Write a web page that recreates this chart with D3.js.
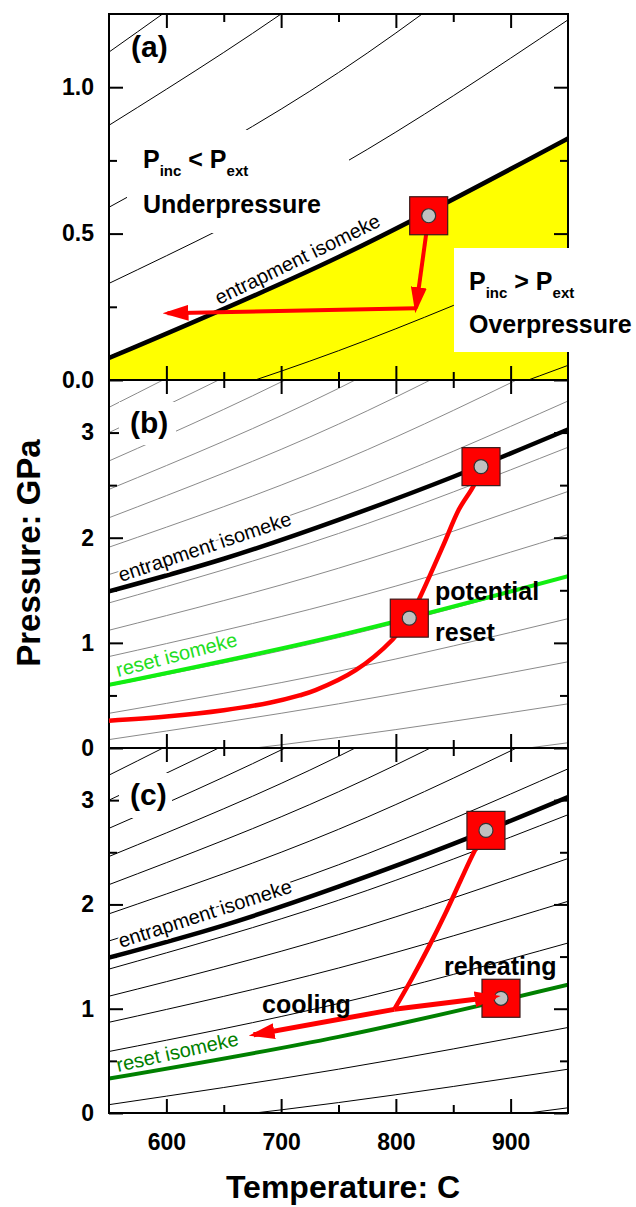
<!DOCTYPE html>
<html>
<head>
<meta charset="utf-8">
<script src="https://cdn.jsdelivr.net/npm/d3@7"></script>
<style>
  body { margin: 0; background: #fff; }
  svg { display: block; font-family: "Liberation Sans", Arial, sans-serif; }
</style>
</head>
<body>
<svg id="chart" width="636" height="1207"></svg>
<script>
// ---- values ----
const tempTicks = [600, 700, 800, 900];
const tempMinor = [650, 750, 850];
const pressTicksA = [0, 0.5, 1.0];
const pressMinorA = [0.25, 0.75];
const pressTicksBC = [0, 1, 2, 3];
const pressMinorBC = [0.5, 1.5, 2.5];

// background isomeke family, pressure at 550, 750 and 950 C
const isoT = [550, 750, 950];
const isoP550 = [-0.41, -0.16, 0.08, 0.33, 0.59, 0.87, 1.12, 1.38, 1.65, 1.91, 2.19, 2.46, 2.73, 3.00, 3.24];
const isoP750 = [-0.22, 0.10, 0.42, 0.73, 1.05, 1.39, 1.71, 2.04, 2.38, 2.72, 3.08, 3.42, 3.76, 4.10, 4.41];
const isoP950 = [0.05, 0.42, 0.82, 1.23, 1.63, 2.03, 2.44, 2.86, 3.30, 3.74, 4.18, 4.62, 5.05, 5.48, 5.86];

const entrapA = [0.075, 0.42, 0.825];          // at isoT
const entrapT = [550, 650, 750, 850, 950];
const entrapP = [1.49, 1.80, 2.17, 2.58, 3.03];  // panels b and c
const resetB = [0.60, 1.07, 1.635];              // at isoT
const resetC = [0.33, 0.73, 1.23];

const pathBT = [550, 600, 650, 690, 716, 730, 765, 797, 811.7, 820, 841, 855, 868, 874.2];
const pathBP = [0.26, 0.30, 0.36, 0.43, 0.50, 0.55, 0.74, 1.03, 1.235, 1.41, 1.92, 2.27, 2.50, 2.676];
const pathCT = [878.5, 868, 856, 843, 829, 814, 798.6];
const pathCP = [2.71, 2.50, 2.22, 1.91, 1.60, 1.29, 0.994];

const arrowA1 = [[828.6, 0.561], [817.5, 0.245]];
const arrowA2 = [[817.5, 0.245], [601, 0.228]];
const coolC = [[798.6, 0.994], [676, 0.75]];
const reheatC = [[798.6, 0.994], [887, 1.115]];

const squaresA = [[828.6, 0.561]];
const squaresB = [[874.2, 2.676], [811.7, 1.235]];
const squaresC = [[878.5, 2.71], [891.6, 1.10]];

const svg = d3.select("#chart");
const left = 109, right = 568;
const x = d3.scaleLinear().domain([550, 950]).range([left, right]);

const panels = [
  { key: "a", top: 14, bottom: 380, yMax: 1.25, major: pressTicksA, minor: pressMinorA, fmt: d3.format(".1f"), thin: "#000" },
  { key: "b", top: 380, bottom: 748, yMax: 3.5, major: pressTicksBC, minor: pressMinorBC, fmt: d3.format("d"), thin: "#8a8a8a" },
  { key: "c", top: 748, bottom: 1113, yMax: 3.5, major: pressTicksBC, minor: pressMinorBC, fmt: d3.format("d"), thin: "#000" }
];
panels.forEach(p => {
  p.y = d3.scaleLinear().domain([0, p.yMax]).range([p.bottom, p.top]);
});

const defs = svg.append("defs");
defs.append("marker")
  .attr("id", "head")
  .attr("markerUnits", "userSpaceOnUse")
  .attr("viewBox", "0 0 26 16")
  .attr("markerWidth", 26)
  .attr("markerHeight", 16)
  .attr("refX", 21)
  .attr("refY", 8)
  .attr("orient", "auto")
  .append("path")
  .attr("d", "M0,0 L26,8 L0,16 Z")
  .attr("fill", "#ff0000");

panels.forEach(p => {
  defs.append("clipPath").attr("id", "clip-" + p.key)
    .append("rect")
    .attr("x", left).attr("y", p.top)
    .attr("width", right - left).attr("height", p.bottom - p.top);
});

function curve(p, pts, c) {
  return d3.line()
    .x(d => x(d[0]))
    .y(d => p.y(d[1]))
    .curve(c || d3.curveNatural)(pts);
}

const family = isoP550.map((v, i) => [[isoT[0], v], [isoT[1], isoP750[i]], [isoT[2], isoP950[i]]]);
const zip3 = arr => isoT.map((t, i) => [t, arr[i]]);

const layers = {};
panels.forEach(p => {
  const g = svg.append("g").attr("clip-path", `url(#clip-${p.key})`);
  layers[p.key] = g;

  if (p.key === "a") {
    // overpressure field under the entrapment isomeke
    const area = d3.area()
      .x(d => x(d[0]))
      .y0(p.y(0))
      .y1(d => p.y(d[1]))
      .curve(d3.curveNatural);
    g.append("path").attr("d", area(zip3(entrapA))).attr("fill", "#ffff00");
  }

  g.selectAll("path.iso").data(family).join("path")
    .attr("class", "iso")
    .attr("d", d => curve(p, d))
    .attr("fill", "none")
    .attr("stroke", p.thin)
    .attr("stroke-width", 1);
});

// thick isomekes
const pa = panels[0], pb = panels[1], pc = panels[2];
const entrapBC = entrapT.map((t, i) => [t, entrapP[i]]);
layers.a.append("path").attr("d", curve(pa, zip3(entrapA)))
  .attr("fill", "none").attr("stroke", "#000").attr("stroke-width", 4.5);
layers.b.append("path").attr("d", curve(pb, entrapBC))
  .attr("fill", "none").attr("stroke", "#000").attr("stroke-width", 4.5);
layers.c.append("path").attr("d", curve(pc, entrapBC))
  .attr("fill", "none").attr("stroke", "#000").attr("stroke-width", 4.5);
layers.b.append("path").attr("d", curve(pb, zip3(resetB)))
  .attr("fill", "none").attr("stroke", "#11ee11").attr("stroke-width", 4);
layers.c.append("path").attr("d", curve(pc, zip3(resetC)))
  .attr("fill", "none").attr("stroke", "#008000").attr("stroke-width", 4);

// axes
panels.forEach(p => {
  const g = svg.append("g").attr("class", "axes");
  const bottomMajor = d3.axisBottom(x).tickValues(tempTicks).tickSize(-14).tickPadding(21)
    .tickFormat(p.key === "c" ? d3.format("d") : "");
  const bottomMinor = d3.axisBottom(x).tickValues(tempMinor).tickSize(-8).tickFormat("");
  const topMajor = d3.axisTop(x).tickValues(tempTicks).tickSize(-14).tickFormat("");
  const topMinor = d3.axisTop(x).tickValues(tempMinor).tickSize(-8).tickFormat("");
  const leftMajor = d3.axisLeft(p.y).tickValues(p.major).tickSize(-14).tickPadding(15).tickFormat(p.fmt);
  const leftMinor = d3.axisLeft(p.y).tickValues(p.minor).tickSize(-8).tickFormat("");
  const rightMajor = d3.axisRight(p.y).tickValues(p.major).tickSize(-14).tickFormat("");
  const rightMinor = d3.axisRight(p.y).tickValues(p.minor).tickSize(-8).tickFormat("");

  g.append("g").attr("transform", `translate(0,${p.bottom})`).call(bottomMajor);
  g.append("g").attr("transform", `translate(0,${p.bottom})`).call(bottomMinor);
  g.append("g").attr("transform", `translate(0,${p.top})`).call(topMajor);
  g.append("g").attr("transform", `translate(0,${p.top})`).call(topMinor);
  g.append("g").attr("transform", `translate(${left},0)`).call(leftMajor);
  g.append("g").attr("transform", `translate(${left},0)`).call(leftMinor);
  g.append("g").attr("transform", `translate(${right},0)`).call(rightMajor);
  g.append("g").attr("transform", `translate(${right},0)`).call(rightMinor);

  g.selectAll(".domain").remove();
  g.selectAll(".tick line").attr("stroke", "#000").attr("stroke-width", 2);
  g.selectAll(".tick text")
    .attr("fill", "#000")
    .attr("font-size", 23)
    .attr("font-weight", "bold")
    .attr("font-family", "Liberation Sans, Arial, sans-serif");

  g.append("rect")
    .attr("x", left).attr("y", p.top)
    .attr("width", right - left).attr("height", p.bottom - p.top)
    .attr("fill", "none").attr("stroke", "#000").attr("stroke-width", 2);
});

// white boxes behind annotations
const boxes = [[127, 130, 222, 103], [454, 248, 182, 104], [119, 402, 57, 43], [119, 773, 53, 45]];
svg.selectAll("rect.box").data(boxes).join("rect")
  .attr("class", "box")
  .attr("x", d => d[0]).attr("y", d => d[1])
  .attr("width", d => d[2]).attr("height", d => d[3])
  .attr("fill", "#fff");

// red paths and arrows
function redLine(p, pts, w, arrow, c) {
  const path = svg.append("path")
    .attr("d", curve(p, pts, c || d3.curveLinear))
    .attr("fill", "none")
    .attr("stroke", "#ff0000")
    .attr("stroke-width", w);
  if (arrow) path.attr("marker-end", "url(#head)");
  return path;
}
redLine(pa, arrowA1, 4, true);
redLine(pa, arrowA2, 4, true);
redLine(pb, pathBT.map((t, i) => [t, pathBP[i]]), 4.5, false, d3.curveCatmullRom.alpha(0.5));
redLine(pc, pathCT.map((t, i) => [t, pathCP[i]]), 4.5, false, d3.curveCatmullRom.alpha(0.5));

function squares(p, pts) {
  const g = svg.append("g");
  const s = g.selectAll("g").data(pts).join("g")
    .attr("transform", d => `translate(${x(d[0])},${p.y(d[1])})`);
  s.append("rect").attr("x", -19).attr("y", -19).attr("width", 38).attr("height", 38)
    .attr("fill", "#ff0000").attr("stroke", "#3a1a1a").attr("stroke-width", 1.2);
  s.append("circle").attr("r", 7).attr("fill", "#c0c0c0")
    .attr("stroke", "#333").attr("stroke-width", 1.2);
}
squares(pa, squaresA);
squares(pb, squaresB);
squares(pc, squaresC);

redLine(pc, coolC, 5, true);
redLine(pc, reheatC, 5, true);

// text annotations
function label(txt, px, py, opts) {
  const o = Object.assign({ size: 25, weight: "bold", fill: "#000", rotate: 0, anchor: "start" }, opts);
  return svg.append("text")
    .attr("transform", `translate(${px},${py}) rotate(${o.rotate})`)
    .attr("font-size", o.size)
    .attr("font-weight", o.weight)
    .attr("fill", o.fill)
    .attr("text-anchor", o.anchor)
    .text(txt);
}

label("(a)", 131, 57, { size: 30 });
label("(b)", 130, 433, { size: 30 });
label("(c)", 130, 805, { size: 30 });

function pressureRatio(px, py, sign) {
  const t = svg.append("text").attr("x", px).attr("y", py)
    .attr("font-size", 25).attr("font-weight", "bold");
  t.append("tspan").text("P");
  t.append("tspan").attr("font-size", 15).attr("dy", 8).text("inc");
  t.append("tspan").attr("dy", -8).text(" " + sign + " P");
  t.append("tspan").attr("font-size", 15).attr("dy", 8).text("ext");
}
pressureRatio(143, 168, "<");
label("Underpressure", 143, 213);
pressureRatio(469, 290, ">");
label("Overpressure", 469, 333);

label("entrapment isomeke", 219, 305, { size: 20, weight: "normal", rotate: -26 });
label("entrapment isomeke", 121, 582, { size: 20, weight: "normal", rotate: -18.5 })
  .attr("stroke", "#fff").attr("stroke-width", 4).attr("paint-order", "stroke");
label("entrapment isomeke", 121, 948, { size: 20, weight: "normal", rotate: -18 })
  .attr("stroke", "#fff").attr("stroke-width", 4).attr("paint-order", "stroke");
label("reset isomeke", 118, 677, { size: 20, weight: "normal", rotate: -14.5, fill: "#22dd22" });
label("reset isomeke", 118, 1072, { size: 20, weight: "normal", rotate: -12.5, fill: "#008000" });

label("potential", 435, 600);
label("reset", 435, 641);
label("reheating", 444, 975);
label("cooling", 262, 1013);

// axis titles
label("Pressure: GPa", 28, 553, { size: 33, rotate: -90, anchor: "middle" })
  .attr("dy", "0.35em");
label("Temperature: C", 343, 1198, { size: 32, anchor: "middle" });
</script>
</body>
</html>
